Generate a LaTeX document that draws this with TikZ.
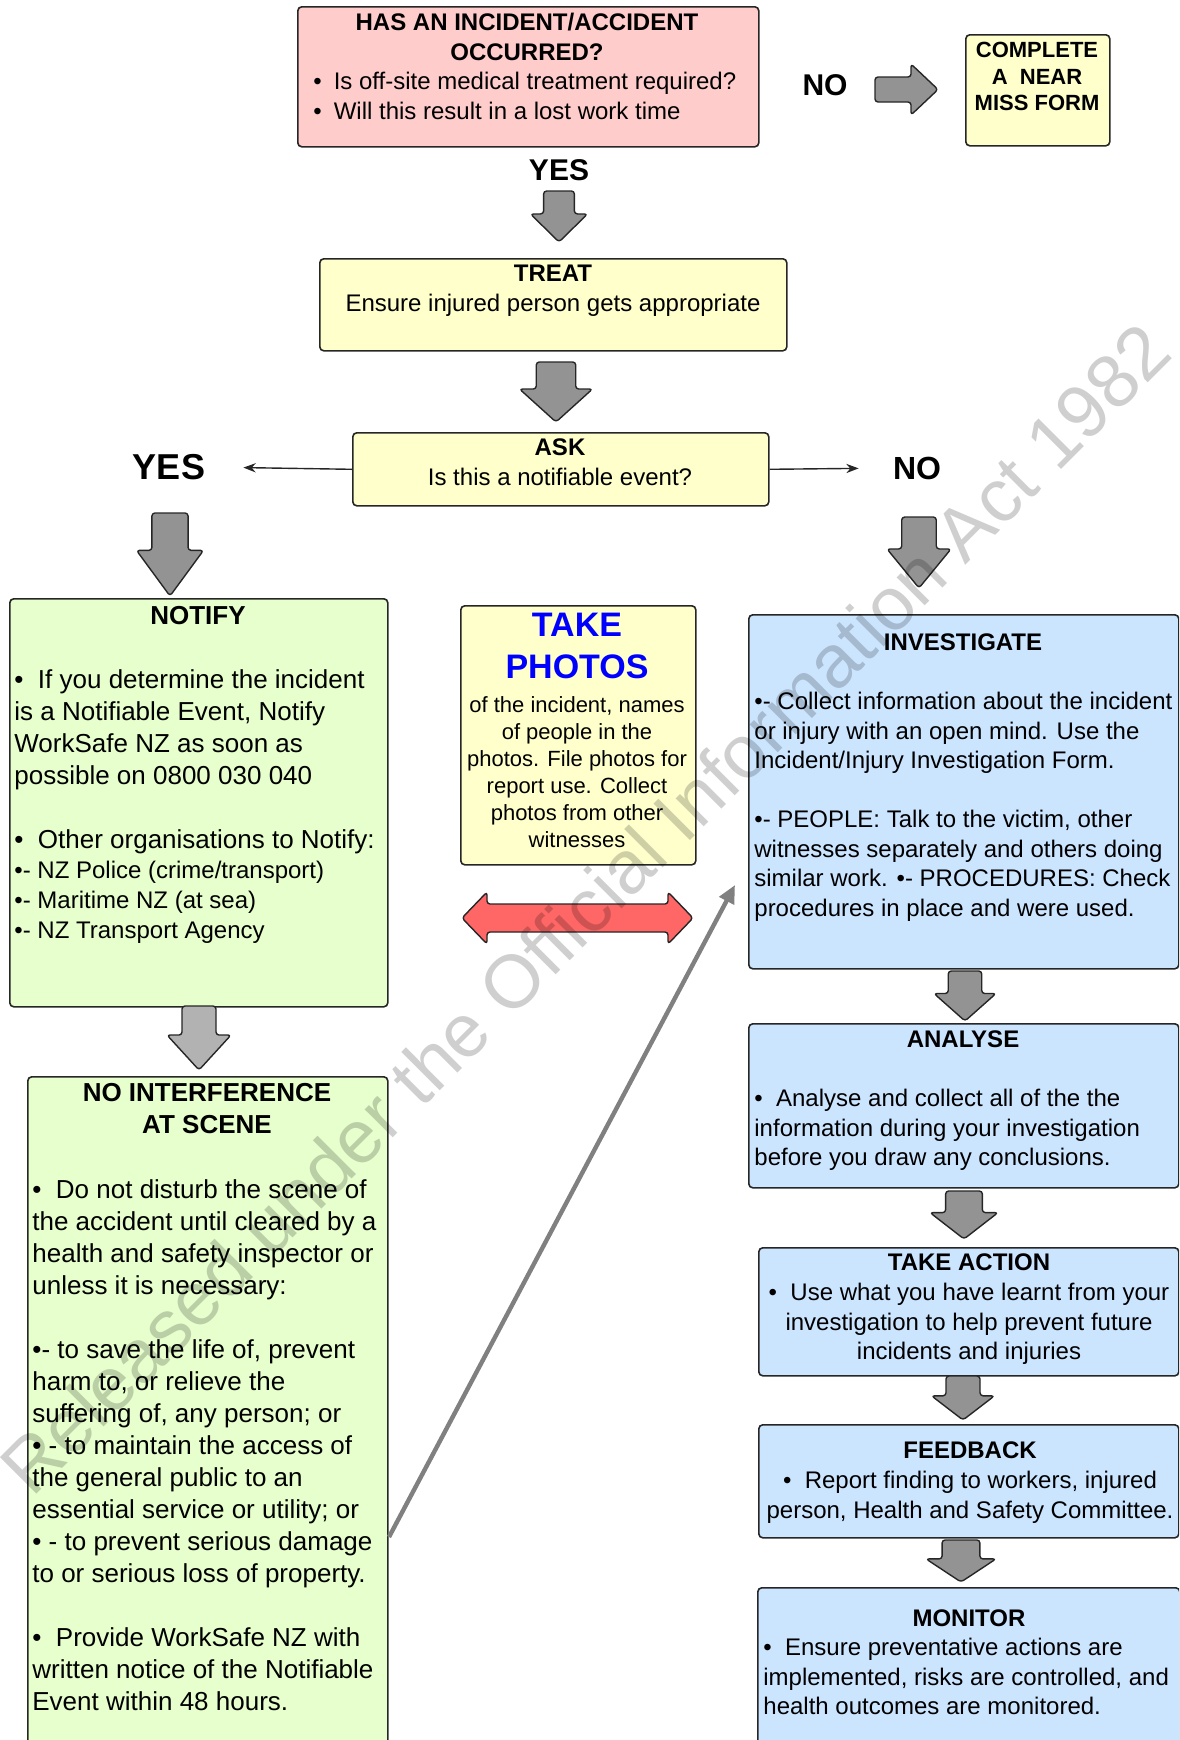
\documentclass[tikz,border=0pt]{standalone}
\usepackage{fontspec}
\setmainfont{Liberation Sans}
\usetikzlibrary{arrows.meta}

\definecolor{pinkbox}{HTML}{FFCCCC}
\definecolor{yelbox}{HTML}{FFFFCC}
\definecolor{grnbox}{HTML}{E6FFCC}
\definecolor{blubox}{HTML}{CCE5FF}
\definecolor{arrgray}{HTML}{939393}
\definecolor{redarr}{HTML}{FF6666}
\definecolor{photoblue}{HTML}{0000FF}

\begin{document}
\begin{tikzpicture}[x=0.5pt, y=-0.5pt, >=Stealth,
    box/.style={draw=black!85, line width=0.8pt, rounded corners=2pt, anchor=north west, inner sep=0pt},
    hd/.style={font=\bfseries\fontsize{12}{15}\selectfont, align=center, inner sep=0pt, anchor=north},
    bodyL/.style={font=\fontsize{12}{15}\selectfont, align=left, inner sep=0pt, anchor=north west},
    lbl/.style={font=\bfseries\fontsize{15}{18}\selectfont, inner sep=0pt},
    blockarr/.style={draw=black!85, line width=0.7pt, fill=arrgray, rounded corners=1.5pt, line join=round},
    dblarr/.style={draw=black!85, line width=0.7pt, fill=redarr, rounded corners=1.5pt, line join=round},
    diagarr/.style={draw=black!50, line width=2.2pt, -{Triangle[length=9pt,width=8pt]}},
    wmark/.style={font=\fontsize{37.5}{40}\selectfont, text=black, opacity=0.19, inner sep=0pt}]

\useasboundingbox (0,0) rectangle (1179,1740);
\clip (0,0) rectangle (1179,1740);

% boxes
\node[box, fill=pinkbox, minimum width=230.5pt, minimum height=70pt] (incident) at (297,6) {};
\node[box, fill=yelbox, minimum width=72pt, minimum height=55.5pt] (nearmiss) at (965,34) {};
\node[box, fill=yelbox, minimum width=233.5pt, minimum height=46pt] (treat) at (319,258) {};
\node[box, fill=yelbox, minimum width=208pt, minimum height=36.5pt] (ask) at (352,432) {};
\node[box, fill=grnbox, minimum width=189pt, minimum height=204pt] (notify) at (9,598) {};
\node[box, fill=yelbox, minimum width=117.5pt, minimum height=129.5pt] (photos) at (460,605) {};
\node[box, fill=blubox, minimum width=215pt, minimum height=177pt] (invest) at (748,614) {};
\node[box, fill=blubox, minimum width=215pt, minimum height=82pt] (analyse) at (748,1023) {};
\node[box, fill=blubox, minimum width=210pt, minimum height=64pt] (action) at (758,1247) {};
\node[box, fill=blubox, minimum width=210pt, minimum height=56.5pt] (feedback) at (758,1424) {};
\node[box, fill=blubox, minimum width=211pt, minimum height=90pt] (monitor) at (757,1587) {};
\node[box, fill=grnbox, minimum width=180pt, minimum height=340pt] (nointerf) at (27,1076) {};

% texts
\node[hd] (incH) at (527,13) {HAS AN INCIDENT/ACCIDENT\\OCCURRED?};
\node[bodyL] (incB) at (313,72) {•\hspace{6pt}Is off-site medical treatment required?\\•\hspace{6pt}Will this result in a lost work time};
\node[hd, font=\bfseries\fontsize{11}{13.3}\selectfont] (nearT) at (1037,42) {COMPLETE\\A\ \ NEAR\\MISS FORM};
\node[hd] (treatT) at (553,265) {TREAT\\\mdseries Ensure injured person gets appropriate};
\node[hd] (askT) at (560,438) {ASK\\\mdseries Is this a notifiable event?};

\node[hd, font=\bfseries\fontsize{13}{16}\selectfont] (notH) at (198,606) {NOTIFY};
\node[bodyL, font=\fontsize{13}{16}\selectfont] (notB) at (14,669) {•\ \ If you determine the incident\\is a Notifiable Event, Notify\\WorkSafe NZ as soon as\\possible on 0800 030 040\\[16pt]•\ \ Other organisations to Notify:};
\node[bodyL] (notC) at (14,861) {•- NZ Police (crime/transport)\\•- Maritime NZ (at sea)\\•- NZ Transport Agency};

\node[hd, font=\bfseries\fontsize{17}{21}\selectfont, text=photoblue] (phoH) at (577,613) {TAKE\\PHOTOS};
\node[hd, font=\fontsize{11}{13.5}\selectfont] (phoB) at (577,696) {of the incident, names\\of people in the\\photos. File photos for\\report use. Collect\\photos from other\\witnesses};

\node[hd] (invH) at (963,633) {INVESTIGATE};
\node[bodyL, font=\fontsize{12}{14.75}\selectfont] (invB) at (754,692) {•- Collect information about the incident\\or injury with an open mind. Use the\\Incident/Injury Investigation Form.\\[14.75pt]•- PEOPLE: Talk to the victim, other\\witnesses separately and others doing\\similar work. •- PROCEDURES: Check\\procedures in place and were used.};

\node[hd] (anaH) at (963,1030) {ANALYSE};
\node[bodyL, font=\fontsize{12}{14.75}\selectfont] (anaB) at (754,1089) {•\ \ Analyse and collect all of the the\\information during your investigation\\before you draw any conclusions.};

\node[hd] (actH) at (969,1253) {TAKE ACTION};
\node[hd, font=\fontsize{12}{14.75}\selectfont] (actB) at (969,1283) {•\ \ Use what you have learnt from your\\investigation to help prevent future\\incidents and injuries};

\node[hd] (feedH) at (970,1441) {FEEDBACK};
\node[hd, font=\fontsize{12}{14.75}\selectfont] (feedB) at (970,1471) {•\ \ Report finding to workers, injured\\person, Health and Safety Committee.};

\node[hd] (monH) at (969,1609) {MONITOR};
\node[bodyL, font=\fontsize{12}{14.75}\selectfont] (monB) at (763,1638) {•\ \ Ensure preventative actions are\\implemented, risks are controlled, and\\health outcomes are monitored.};

\node[hd, font=\bfseries\fontsize{13}{16}\selectfont] (noiH) at (207,1083) {NO INTERFERENCE\\AT SCENE};
\node[bodyL, font=\fontsize{13}{16}\selectfont] (noiB) at (32,1179) {•\ \ Do not disturb the scene of\\the accident until cleared by a\\health and safety inspector or\\unless it is necessary:\\[16pt]•- to save the life of, prevent\\harm to, or relieve the\\suffering of, any person; or\\• - to maintain the access of\\the general public to an\\essential service or utility; or\\• - to prevent serious damage\\to or serious loss of property.\\[16pt]•\ \ Provide WorkSafe NZ with\\written notice of the Notifiable\\Event within 48 hours.};

% labels
\node[lbl] (yesT) at (559,170) {YES};
\node[lbl] (noT) at (825,85) {NO};
\node[lbl, font=\bfseries\fontsize{18}{21}\selectfont] (yesL) at (169,467) {YES};
\node[lbl, font=\bfseries\fontsize{16}{19}\selectfont] (noR) at (917,468) {NO};

% connectors
\draw[->, line width=0.7pt, black!85, shorten >=19pt] (ask.west) -- (yesL.east);
\draw[->, line width=0.7pt, black!85, shorten >=17pt] (ask.east) -- (noR.west);

% block arrows
\foreach \cx/\ty/\len/\wd in {559/191/51/57, 556/362/60/73, 170/513/83/67, 919/517/71/64,
    965/971/50/62, 964/1191/48/68, 963/1376/44/63, 961/1540/42/70}
{
    \draw[blockarr] (\cx-0.27*\wd,\ty) -- (\cx+0.27*\wd,\ty) -- (\cx+0.27*\wd,\ty+0.45*\len)
        -- (\cx+0.5*\wd,\ty+0.45*\len) -- (\cx,\ty+\len) -- (\cx-0.5*\wd,\ty+0.45*\len)
        -- (\cx-0.27*\wd,\ty+0.45*\len) -- cycle;
}
\draw[blockarr, fill=black!30] (182,1006) -- (216,1006) -- (216,1035) -- (231,1035) -- (199,1070)
    -- (167,1035) -- (182,1035) -- cycle;
\draw[blockarr] (875,77) -- (911,77) -- (911,64) -- (938,89.5) -- (911,115) -- (911,102) -- (875,102) -- cycle;
\draw[dblarr] (462,918) -- (487,892) -- (487,904) -- (668,904) -- (668,892) -- (693,918)
    -- (668,944) -- (668,932) -- (487,932) -- (487,944) -- cycle;

\coordinate (diagS) at (389,1537);
\coordinate (diagE) at (735,885);
\draw[diagarr] (diagS) -- (diagE);

% watermark
\node[wmark, rotate=45] (wm) at (585,908) {Released under the Official Information Act 1982};
\end{tikzpicture}
\end{document}
